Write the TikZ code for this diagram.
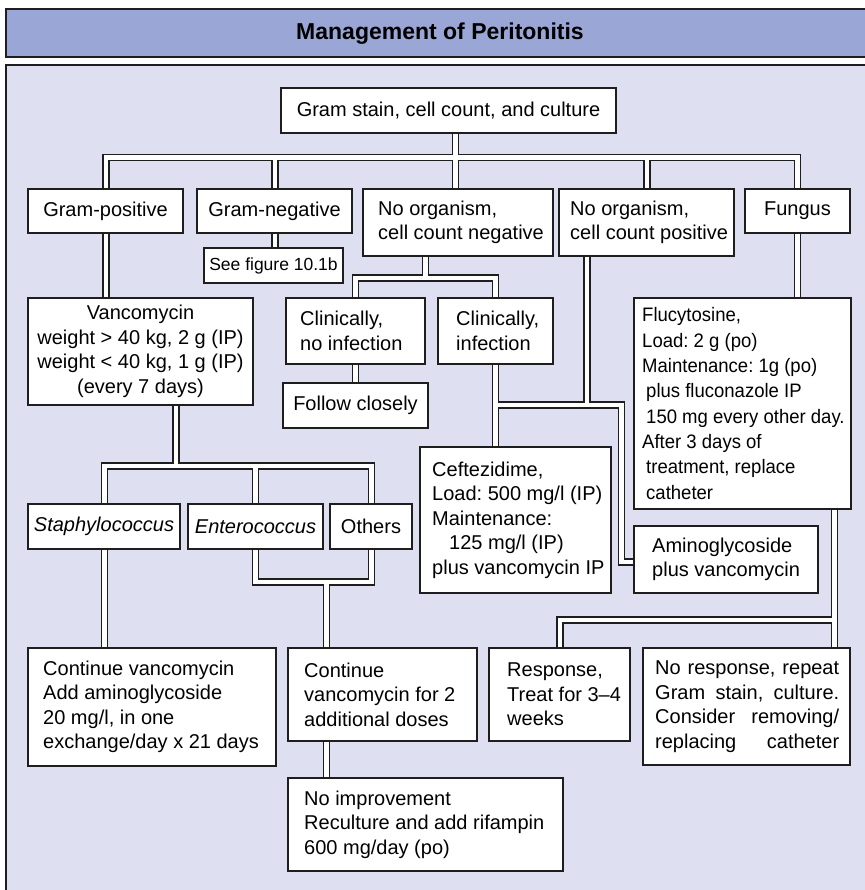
\documentclass[tikz,border=0pt]{standalone}
\usepackage{fontspec}
\setmainfont{Liberation Sans}
\newfontfamily\condf[FakeStretch=0.95]{Liberation Sans}
\usetikzlibrary{calc}
\definecolor{linec}{RGB}{30,30,30}
\definecolor{titlefill}{RGB}{153,166,214}
\definecolor{panelfill}{RGB}{222,224,241}
\pgfdeclarelayer{bg}\pgfdeclarelayer{conn}\pgfsetlayers{bg,conn,main}
\newcommand\fmain{\fontsize{20}{24.5}\selectfont}
\newcommand\fsmall{\fontsize{17.5}{21}\selectfont}
\newcommand\fcond{\condf\fontsize{19.5}{25.3}\selectfont}
\newcommand\ftitle{\fontsize{23}{27}\selectfont\bfseries}
% frame of a box: name, x1, y1, x2, y2
\newcommand\bxframe[5]{%
  \pgfmathsetmacro\bxw{#4-#2}\pgfmathsetmacro\bxh{#5-#3}%
  \node[box, anchor=north west, minimum width=\bxw pt, minimum height=\bxh pt] (#1) at (#2,#3) {};}
% centred text box: name, x1, y1, x2, y2, font, text
\newcommand\bxc[7]{\bxframe{#1}{#2}{#3}{#4}{#5}%
  \node[txt, align=center, font=#6] (#1-t) at (#1.center) {#7};}
% left text box: name, x1, y1, x2, y2, pad, font, text
\newcommand\bxl[8]{\bxframe{#1}{#2}{#3}{#4}{#5}%
  \node[txt, align=left, anchor=west, font=#7] (#1-t) at ($(#1.west)+(#6,0)$) {#8};}
\newcommand\jline[1]{\hbox to 184pt{#1}}
\newcommand\connpaths{%
  \draw[cn] (gs.south -| jM) -- (jM);
  \draw[cn] (jL) -- (jR);
  \draw[cn] (jL) -- (jL |- gpos.north);
  \draw[cn] (jGN) -- (jGN |- gneg.north);
  \draw[cn] (jM) -- (jM |- nneg.north);
  \draw[cn] (jNP) -- (jNP |- npos.north);
  \draw[cn] (jR) -- (jR |- fung.north);
  \draw[cn] (gneg.south -| jGN) -- (jGN |- seefig.north);
  \draw[cn] (nneg.south -| jN2) -- (jN2);
  \draw[cn] (jN2L) -- (jN2R);
  \draw[cn] (jN2L) -- (jN2L |- clinno.north);
  \draw[cn] (jN2R) -- (jN2R |- clinyes.north);
  \draw[cn] (clinno.south -| jN2L) -- (jN2L |- follow.north);
  \draw[cn] (clinyes.south -| jN2R) -- (jN2R |- cef.north);
  \draw[cn] (jC1) -- (jC2) -- (jC3) -- (amino.west |- jC3);
  \draw[cn] (npos.south -| jNP2) -- (jNP2);
  \draw[cn] (gpos.south -| jL) -- (jL |- vanc.north);
  \draw[cn] (vanc.south -| jV) -- (jV);
  \draw[cn] (jVL) -- (jVR);
  \draw[cn] (jVL) -- (jVL |- staph.north);
  \draw[cn] (jVE) -- (jVE |- entero.north);
  \draw[cn] (jVR) -- (jVR |- others.north);
  \draw[cn] (staph.south -| jVL) -- (jVL |- contv.north);
  \draw[cn] (entero.south -| jEO1) -- (jEO1) -- (jEO2) -- (others.south -| jEO2);
  \draw[cn] (jEO) -- (jEO |- cont2.north);
  \draw[cn] (cont2.south -| jEO) -- (jEO |- noimp.north);
  \draw[cn] (fung.south -| jR) -- (jR |- fluc.north);
  \draw[cn] (fluc.south -| jF) -- (jF |- noresp.north);
  \draw[cn] (jF) -- (jF3) -- (jF3 |- resp.north);
}
\begin{document}
\frenchspacing
\begin{tikzpicture}[x=1pt,y=-1pt,
  box/.style={draw=linec, fill=white, line width=1.2pt, inner sep=0pt, outer sep=0pt},
  txt/.style={inner sep=0pt, text=black}]
\useasboundingbox (0,0) rectangle (864,890);
\begin{pgfonlayer}{bg}
  \fill[white] (0,0) rectangle (864,890);
  \draw[line width=1.6pt, draw=linec, fill=titlefill] (6,9) rectangle (880,57);
  \draw[line width=1.6pt, draw=linec, fill=panelfill] (6,65) rectangle (880,910);
\end{pgfonlayer}
\node[font=\ftitle, anchor=base, inner sep=0pt] (title) at (440,40) {Management of Peritonitis};

\bxc{gs}{281}{88}{616}{133}{\fmain}{Gram stain, cell count, and culture}
\bxc{gpos}{28}{189}{183}{233}{\fmain}{Gram-positive}
\bxc{gneg}{197}{189}{352}{233}{\fmain}{Gram-negative}
\bxl{nneg}{363}{189}{553}{256}{15}{\fmain}{No organism,\\cell count negative}
\bxl{npos}{559}{189}{734}{256}{11}{\fmain}{No organism,\\cell count positive}
\bxc{fung}{745}{189}{850}{233}{\fmain}{Fungus}
\bxc{seefig}{204}{248}{343}{283}{\fsmall}{See figure 10.1b}
\bxc{vanc}{28}{298}{253}{405}{\fmain}{Vancomycin\\weight > 40 kg, 2 g (IP)\\weight < 40 kg, 1 g (IP)\\(every 7 days)}
\bxl{clinno}{286}{298}{425}{364}{14}{\fmain}{Clinically,\\no infection}
\bxl{clinyes}{438}{298}{553}{364}{18}{\fmain}{Clinically,\\infection}
\bxc{follow}{283}{383}{428}{428}{\fmain}{Follow closely}
\bxl{fluc}{634}{298}{851}{509}{8}{\fcond}{Flucytosine,\\Load: 2 g (po)\\Maintenance: 1g (po)\\\hspace*{4pt}plus fluconazole IP\\\hspace*{4pt}150 mg every other day.\\After 3 days of\\\hspace*{4pt}treatment, replace\\\hspace*{4pt}catheter}
\bxl{cef}{420}{447}{611}{593}{12}{\fmain}{Ceftezidime,\\Load: 500 mg/l (IP)\\Maintenance:\\\hspace*{17pt}125 mg/l (IP)\\plus vancomycin IP}
\bxl{amino}{634}{526}{818}{593}{18}{\fmain}{Aminoglycoside\\plus vancomycin}
\bxc{staph}{28}{504}{180}{549}{\fmain\itshape}{Staphylococcus}
\bxc{entero}{188}{504}{323}{549}{\fmain\itshape}{Enterococcus}
\bxc{others}{330}{504}{412}{549}{\fmain}{Others}
\bxl{contv}{28}{648}{276}{766}{15}{\fmain}{Continue vancomycin\\Add aminoglycoside\\20 mg/l, in one\\exchange/day x 21 days}
\bxl{cont2}{288}{648}{477}{741}{16}{\fmain}{Continue\\vancomycin for 2\\additional doses}
\bxl{noimp}{288}{778}{563}{871}{16}{\fmain}{No improvement\\Reculture and add rifampin\\600 mg/day (po)}
\bxl{resp}{489}{648}{630}{741}{18}{\fmain}{Response,\\Treat for 3–4\\weeks}
\bxl{noresp}{643}{648}{850}{765}{12}{\fmain}{\jline{No\hfill response,\hfill repeat}\\\jline{Gram\hfill stain,\hfill culture.}\\\jline{Consider\hfill removing/}\\\jline{replacing\hfill catheter}}

\coordinate (jM) at (455.5,157.5);
\coordinate (jL) at (106,157.5);
\coordinate (jR) at (797.5,157.5);
\coordinate (jGN) at (275,157.5);
\coordinate (jNP) at (647,157.5);
\coordinate (jN2) at (425.5,278);
\coordinate (jN2L) at (355.5,278);
\coordinate (jN2R) at (495.5,278);
\coordinate (jC1) at (495.5,405);
\coordinate (jC2) at (621.5,405);
\coordinate (jC3) at (621.5,562);
\coordinate (jNP2) at (587,405);
\coordinate (jV) at (176,466);
\coordinate (jVL) at (104.5,466);
\coordinate (jVE) at (255.5,466);
\coordinate (jVR) at (371.5,466);
\coordinate (jEO1) at (255.5,582);
\coordinate (jEO2) at (371.5,582);
\coordinate (jEO) at (326.5,582);
\coordinate (jF) at (834.5,620);
\coordinate (jF3) at (560,620);

\begin{pgfonlayer}{conn}
  \tikzset{cn/.style={draw=linec, line width=7.2pt, line cap=rect, line join=miter}}
  \connpaths
  \tikzset{cn/.style={draw=white, line width=4.8pt, line cap=rect, line join=miter}}
  \connpaths
\end{pgfonlayer}
\end{tikzpicture}
\end{document}
